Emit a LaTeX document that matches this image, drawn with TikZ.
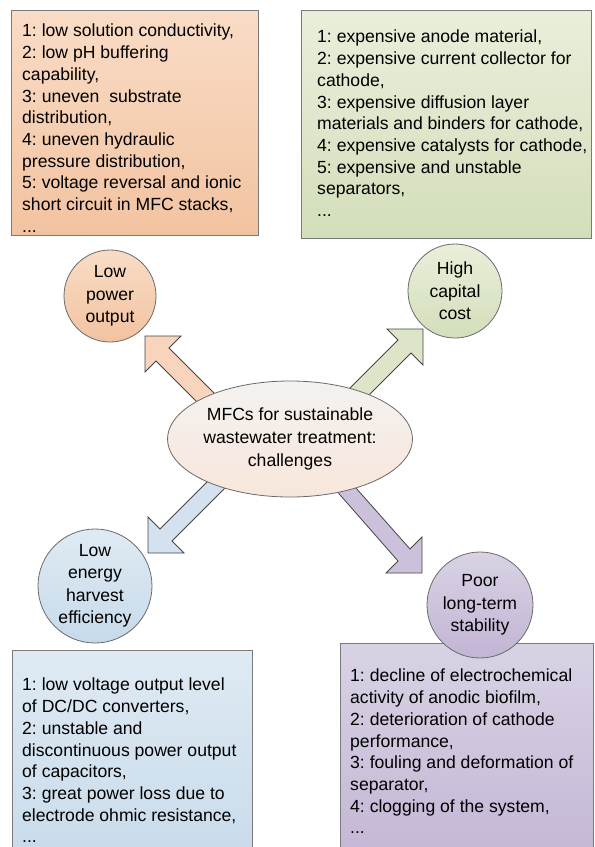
\documentclass[tikz,border=0pt]{standalone}
\usepackage{fontspec}
\setmainfont{Liberation Sans}
\usetikzlibrary{shapes.geometric}
\definecolor{boxgray}{HTML}{7A7A7A}
\definecolor{circgray}{HTML}{6A6A6A}
\definecolor{arrgray}{HTML}{454545}
\definecolor{orTop}{HTML}{F9DCC6}
\definecolor{orBot}{HTML}{F2C3A0}
\definecolor{grTop}{HTML}{E9EFDB}
\definecolor{grBot}{HTML}{D3DEBA}
\definecolor{blTop}{HTML}{DFEAF3}
\definecolor{blBot}{HTML}{C7DAEA}
\definecolor{puTop}{HTML}{D9D2E4}
\definecolor{puBot}{HTML}{C2B5D5}
\definecolor{elTop}{HTML}{F3F2F1}
\definecolor{elBot}{HTML}{F8E6DA}
\frenchspacing
\begin{document}
\begin{tikzpicture}[x=1pt,y=-1pt,
  txt/.style={font=\fontsize{17.6}{21.7}\selectfont, inner sep=0pt, align=left, anchor=north west},
  boxnode/.style={rectangle, draw=boxgray, line width=0.9pt, anchor=north west, inner sep=0pt},
  circ/.style={circle, draw=circgray, line width=0.8pt, minimum size=#1, inner sep=0pt,
    font=\fontsize{17.6}{22.5}\selectfont, align=center},
  barrow/.style={draw=arrgray, line width=0.8pt, line join=miter}]
\useasboundingbox (0,0) rectangle (595,847);
\clip (0,0) rectangle (595,847);

% text boxes
\node[boxnode, top color=orTop, bottom color=orBot, minimum width=247pt, minimum height=225pt] (boxA) at (11,10) {};
\node[txt] (tA) at (22,24) {1: low solution conductivity,\\2: low pH buffering\\capability,\\3: uneven\ \ substrate\\distribution,\\4: uneven hydraulic\\pressure distribution,\\5: voltage reversal and ionic\\short circuit in MFC stacks,\\...};

\node[boxnode, top color=grTop, bottom color=grBot, minimum width=290pt, minimum height=228pt] (boxB) at (301,10) {};
\node[txt] (tB) at (317,30) {1: expensive anode material,\\2: expensive current collector for\\cathode,\\3: expensive diffusion layer\\materials and binders for cathode,\\4: expensive catalysts for cathode,\\5: expensive and unstable\\separators,\\...};

\node[boxnode, top color=blTop, bottom color=blBot, minimum width=240pt, minimum height=220pt] (boxC) at (12,650) {};
\node[txt] (tC) at (22,678) {1: low voltage output level\\of DC/DC converters,\\2: unstable and\\discontinuous power output\\of capacitors,\\3: great power loss due to\\electrode ohmic resistance,\\...};

\node[boxnode, top color=puTop, bottom color=puBot, minimum width=253pt, minimum height=230pt] (boxD) at (340,643) {};
\node[txt] (tD) at (350,669) {1: decline of electrochemical\\activity of anodic biofilm,\\2: deterioration of cathode\\performance,\\3: fouling and deformation of\\separator,\\4: clogging of the system,\\...};

% block arrows
\draw[barrow, fill=orTop!70!orBot] (145,336) -- (181,336) -- (169,348) -- (224,403) -- (211,416) -- (156,361) -- (145,372) -- cycle;
\draw[barrow, fill=grTop!40!grBot] (423,329) -- (423,365) -- (411,353) -- (356,408) -- (343,395) -- (398,340) -- (387,329) -- cycle;
\draw[barrow, fill=blTop!50!blBot] (148,553) -- (148,517) -- (160,529) -- (225,464) -- (237,476) -- (172,541) -- (184,553) -- cycle;
\draw[barrow, fill=puTop!40!puBot] (422,573) -- (386,573) -- (398,561) -- (327,480) -- (340,470) -- (410,549) -- (422,537) -- cycle;

% centre ellipse
\node[ellipse, draw=circgray, line width=0.8pt, top color=elTop, bottom color=elBot,
  minimum width=232pt, minimum height=116pt, inner sep=0pt,
  font=\fontsize{17.6}{23}\selectfont, align=center] (centre) at (290,439)
  {MFCs for sustainable\\wastewater treatment:\\challenges};

% circles
\node[circ=92pt, top color=orTop, bottom color=orBot] (cLow) at (110,296) {Low\\power\\output};
\node[circ=94pt, top color=grTop, bottom color=grBot] (cHigh) at (455,291) {High\\capital\\cost};
\node[circ=114pt, top color=blTop, bottom color=blBot] (cEnergy) at (95,586) {Low\\energy\\harvest\\efficiency};
\node[circ=106pt, top color=puTop, bottom color=puBot] (cPoor) at (480,605) {Poor\\long-term\\stability};
\end{tikzpicture}
\end{document}
